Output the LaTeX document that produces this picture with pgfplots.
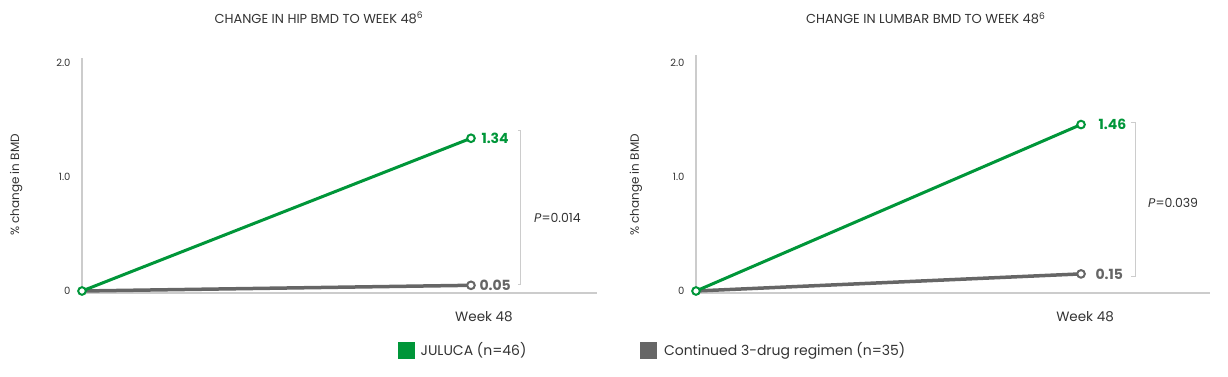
\documentclass[border=0pt]{standalone}
\usepackage{pgfplots}
\pgfplotsset{compat=1.18}
\usepackage{fontspec}
\setmainfont{Poppins}
\definecolor{jgreen}{HTML}{009639}
\definecolor{jgray}{HTML}{666666}
\definecolor{axgray}{HTML}{CCCCCC}
\definecolor{txt}{HTML}{333333}

\pgfplotsset{
  bmd/.style={
    scale only axis, anchor=south west,
    axis x line*=bottom, axis y line*=left,
    axis line style={axgray, line width=1.5pt, -},
    ymin=-0.0175, xmin=0,
    xtick={48}, xticklabels={Week 48},
    ytick={0,1,2}, yticklabels={0,1.0,2.0},
    major tick length=0pt,
    yticklabel style={font=\fontsize{10}{12}\selectfont, text=txt, anchor=east, xshift=-8pt},
    xticklabel style={font=\fontsize{13.5}{16}\selectfont, text=txt, anchor=center, yshift=-24pt},
    ylabel={\% change in BMD},
    ylabel style={font=\fontsize{12}{14}\selectfont, text=txt, anchor=center},
    title style={font=\fontsize{13}{15}\selectfont, text=txt, anchor=center},
    clip=false,
  },
  greenline/.style={jgreen, line width=3pt, mark=*, mark size=3.8pt,
    mark options={fill=white, draw=jgreen, line width=2pt, solid}, forget plot},
  grayline/.style={jgray, line width=3.5pt, mark=*, mark size=3.8pt, mark indices={2},
    mark options={fill=white, draw=jgray, line width=2pt, solid}, forget plot},
}

\begin{document}
\begin{tikzpicture}
\path[use as bounding box] (0pt,0pt) rectangle (1228pt,377pt);

% ---------- Hip ----------
\begin{axis}[bmd,
  at={(82pt,84pt)}, width=515pt, height=235pt,
  xmax=63.55, ymax=2.044,
  xticklabel style={xshift=13pt},
  ylabel style={at={(axis description cs:-0.128,0.46)}},
  title={CHANGE IN HIP BMD TO WEEK 48\textsuperscript{6}},
  title style={at={(axis description cs:0.46,1.145)}},
  legend columns=2,
  legend style={at={(axis description cs:0.6136,-0.2426)}, anchor=west,
    draw=none, fill=none, inner sep=0pt,
    font=\fontsize{14}{16}\selectfont, text=txt,
    /tikz/every even column/.append style={column sep=108pt}},
]
\addplot[grayline] coordinates {(0,0) (48,0.05)};
\addplot[greenline] coordinates {(0,0) (48,1.34)};
\addlegendimage{legend image code/.code={\fill[jgreen] (0pt,-8pt) rectangle (16pt,8pt);}}
\addlegendentry{\makebox[113pt][l]{\hspace*{4pt}JULUCA (n=46)}}
\addlegendimage{legend image code/.code={\fill[jgray] (0pt,-8pt) rectangle (16pt,8pt);}}
\addlegendentry{\hspace*{6pt}Continued 3-drug regimen (n=35)}
\node[anchor=west, font=\bfseries\fontsize{14}{16}\selectfont, text=jgreen] at (axis cs:48,1.34) [xshift=7pt] {1.34};
\node[anchor=west, font=\bfseries\fontsize{14}{16}\selectfont, text=jgray] at (axis cs:48,0.05) [xshift=5pt] {0.05};
\draw[axgray, line width=1pt] ([xshift=-3pt]axis cs:54.17,1.412) -- (axis cs:54.17,1.412) -- (axis cs:54.17,0.053) -- ([xshift=-3pt]axis cs:54.17,0.053);
\node[anchor=west, font=\fontsize{12.5}{14}\selectfont, text=txt, inner sep=0pt] at (axis cs:55.78,0.64) {\textit{P}=0.014};
\end{axis}

% ---------- Lumbar ----------
\begin{axis}[bmd,
  at={(696pt,84pt)}, width=514pt, height=238pt,
  xmax=64.08, ymax=2.07,
  xticklabel style={xshift=4pt},
  ylabel style={at={(axis description cs:-0.117,0.454)}},
  title={CHANGE IN LUMBAR BMD TO WEEK 48\textsuperscript{6}},
  title style={at={(axis description cs:0.447,1.13)}},
]
\addplot[grayline] coordinates {(0,0) (48,0.15)};
\addplot[greenline] coordinates {(0,0) (48,1.46)};
\node[anchor=west, font=\bfseries\fontsize{14}{16}\selectfont, text=jgreen] at (axis cs:48,1.46) [xshift=14pt] {1.46};
\node[anchor=west, font=\bfseries\fontsize{14}{16}\selectfont, text=jgray] at (axis cs:48,0.15) [xshift=11pt] {0.15};
\draw[axgray, line width=1pt] ([xshift=-5pt]axis cs:54.85,1.474) -- (axis cs:54.85,1.474) -- (axis cs:54.85,0.123) -- ([xshift=-5pt]axis cs:54.85,0.123);
\node[anchor=west, font=\fontsize{12.5}{14}\selectfont, text=txt, inner sep=0pt] at (axis cs:56.35,0.772) {\textit{P}=0.039};
\end{axis}
\end{tikzpicture}
\end{document}
